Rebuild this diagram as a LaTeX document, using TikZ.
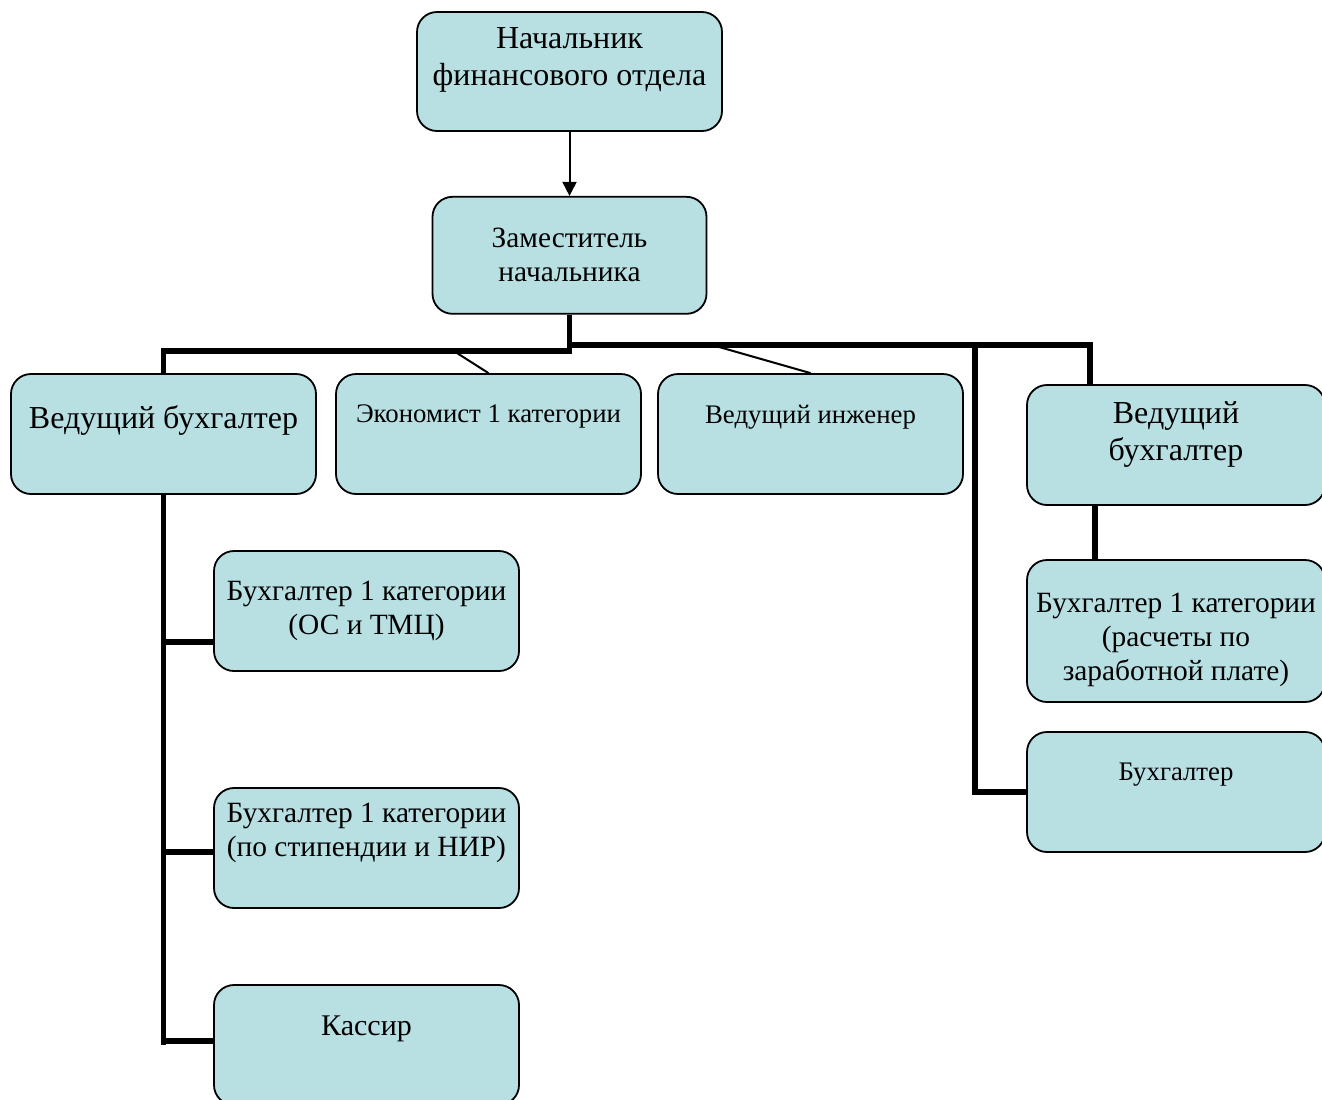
\documentclass[tikz,border=0pt]{standalone}
\usepackage{fontspec}
\setmainfont{Liberation Serif}
\usetikzlibrary{positioning, calc, arrows.meta}
\definecolor{boxblue}{RGB}{184,224,227}

\begin{document}
\begin{tikzpicture}[x=0.5pt, y=-0.5pt, node distance=32pt,
    box/.style={rectangle, draw, line width=0.9pt, fill=boxblue, rounded corners=10pt, align=center, minimum width=152.5pt, minimum height=60pt, inner sep=2pt},
    lift/.style={text depth=#1},
    bigtext/.style={font=\fontsize{16}{18.5}\selectfont},
    midtext/.style={font=\fontsize{14.7}{17}\selectfont},
    smalltext/.style={font=\fontsize{13.4}{16}\selectfont},
    bar/.style={line width=2.8pt},
    slim/.style={line width=1pt}]
    \useasboundingbox (0,0) rectangle (1322,1099);

    % top of the department
    \node [box, bigtext, lift=15pt, minimum height=59.5pt] (head) at (569.5,71.5) {Начальник\\финансового отдела};
    \node [box, midtext, below=of head, minimum width=137pt, minimum height=58.5pt] (deputy) {Заместитель\\начальника};

    % first row
    \node [box, bigtext, lift=16.5pt] (leadl) at (163.5,434) {Ведущий бухгалтер};
    \node [box, smalltext, lift=20pt] (econ) at (488.5,434) {Экономист 1 категории};
    \node [box, smalltext, lift=20pt] (eng) at (810.5,434) {Ведущий инженер};
    \node [box, bigtext, lift=14pt, minimum width=149pt] (leadr) at (1176,445) {Ведущий\\бухгалтер};

    % left column
    \node [box, midtext] (acc1) at (366.5,611) {Бухгалтер 1 категории\\(ОС и ТМЦ)};
    \node [box, midtext, lift=18.5pt] (acc2) at (366.5,848) {Бухгалтер 1 категории\\(по стипендии и НИР)};
    \node [box, midtext, font=\fontsize{15}{17}\selectfont, lift=19pt] (cash) at (366.5,1045) {Кассир};

    % right column
    \node [box, midtext, minimum width=149pt, minimum height=71pt] (pay) at (1176,631) {\rule{0pt}{18.5pt}Бухгалтер 1 категории\\(расчеты по\\заработной плате)};
    \node [box, smalltext, lift=20pt, minimum width=149pt] (acc) at (1176,792) {Бухгалтер};

    \coordinate (rj) at (1090,345);
    \coordinate (bj) at (975,345);

    \draw [-{Triangle[length=7pt,width=7pt]}, line width=1pt] (head) -- (deputy);
    \draw [bar] (deputy.south) -- ++(0,36) -| (leadl.north);
    \draw [bar] (deputy.south) |- (rj) -- (rj |- leadr.north);
    \draw [slim] ($(econ.north)+(-33,-21)$) -- (econ.north);
    \draw [slim] ($(eng.north)+(-98,-28)$) -- (eng.north);
    \draw [bar] (bj) |- (acc.west);
    \draw [bar] (leadl.south) -- (leadl.south |- cash.west) ++(0,-4) -- ($(cash.west)+(0,-4)$);
    \draw [bar] (leadl.south |- acc1.west) ++(0,31) -- ($(acc1.west)+(0,31)$);
    \draw [bar] (leadl.south |- acc2.west) ++(0,4) -- ($(acc2.west)+(0,4)$);
    \draw [bar] ($(leadr.south west)+(69,0)$) -- ($(pay.north west)+(69,0)$);
\end{tikzpicture}
\end{document}
